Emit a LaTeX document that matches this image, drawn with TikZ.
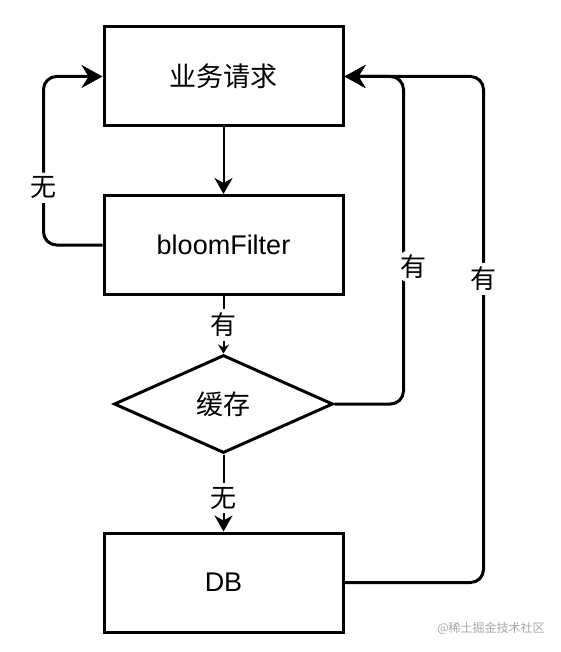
\documentclass[tikz,border=0pt]{standalone}
\usepackage{fontspec}
\setmainfont{Liberation Sans}
\newfontfamily\cjk{Noto Sans CJK SC}
\usetikzlibrary{shapes.geometric, arrows.meta, calc}

\begin{document}
\begin{tikzpicture}[
    x=1pt, y=-1pt,
    box/.style={draw, line width=3pt, minimum width=239pt, minimum height=99pt, inner sep=0pt, font=\fontsize{27}{31}\selectfont},
    decision/.style={diamond, draw, line width=3pt, minimum width=219pt, minimum height=98pt, inner sep=0pt, font=\fontsize{27}{31}\selectfont},
    flow/.style={line width=2pt, -{Stealth[length=16pt, width=18pt, inset=5pt]}},
    back/.style={line width=3pt, rounded corners=13pt, -{Stealth[length=21pt, width=23pt, inset=7pt]}},
    lbl/.style={fill=white, inner sep=4pt, font=\cjk\fontsize{26}{30}\selectfont}
]
    \useasboundingbox (0,0) rectangle (560,652);

    % Steps
    \node[box] (request) at (223.5,76.5) {\cjk 业务请求};
    \node[box] (bloom) at (223.5,245) {bloomFilter};
    \node[decision] (cache) at (223.5,404) {\cjk 缓存};
    \node[box] (db) at (223.5,582.5) {DB};

    % Main flow
    \draw[flow] (request) -- (bloom);
    \draw[line width=2pt, -{Stealth[length=9pt, width=11pt, inset=3pt]}] (bloom) -- node[lbl] {有} (cache);
    \draw[flow] (cache) -- node[lbl, pos=0.57] {无} (db);

    % Loops back to the request
    \draw[back] (bloom.west) -- ++(-59,0) |- node[lbl, pos=0.17] {无} (request.west);
    \draw[back] (cache.east) -- ++(69,0) |- node[lbl, pos=0.21, xshift=10pt] {有} (request.east);
    \draw[back] (db.east) -- ++(139,0) |- node[lbl, pos=0.30] {有} (request.east);

    % Watermark
    \node[text=gray!70, font=\cjk\fontsize{12}{14}\selectfont] (mark) at (491,628) {@稀土掘金技术社区};
\end{tikzpicture}
\end{document}
